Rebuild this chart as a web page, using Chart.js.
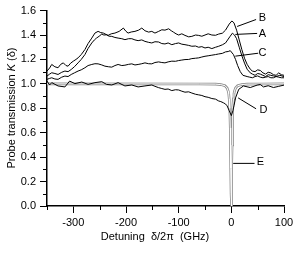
<!DOCTYPE html>
<html>
<head>
<meta charset="utf-8">
<script src="https://cdn.jsdelivr.net/npm/chart.js@4/dist/chart.umd.min.js"></script>
<style>
  body { margin: 0; background: #fff; }
  canvas { display: block; }
</style>
</head>
<body>
<canvas id="myChart" width="299" height="257"></canvas>
<script>
// detuning (GHz) and transmission K, one pair of arrays per trace
const bDet = [-350,-345,-341,-335,-329,-324,-319,-314,-310,-305,-300,-295,-291,-285,-278,-272,-265,-259,-253,-248,-243,-238,-234,-228,-221,-213,-205,-200,-196,-190,-183,-176,-170,-164,-157,-151,-145,-138,-132,-126,-119,-114,-110,-105,-100,-94,-88,-81,-75,-68,-62,-56,-50,-44,-37,-30,-24,-17,-11,-4,1,5,10,15,20,25,30,36,40,45,50,55,60,65,70,75,80,85,90,95,100];
const bK = [1.105,1.13,1.159,1.14,1.132,1.16,1.172,1.15,1.145,1.17,1.186,1.2,1.213,1.24,1.281,1.33,1.375,1.416,1.43,1.42,1.416,1.405,1.397,1.41,1.416,1.43,1.457,1.43,1.416,1.425,1.43,1.44,1.457,1.435,1.424,1.43,1.416,1.43,1.443,1.44,1.451,1.435,1.424,1.41,1.40,1.41,1.397,1.385,1.389,1.40,1.397,1.39,1.40,1.41,1.40,1.398,1.408,1.415,1.44,1.49,1.515,1.50,1.44,1.36,1.28,1.21,1.16,1.12,1.105,1.10,1.115,1.11,1.09,1.08,1.095,1.09,1.075,1.07,1.09,1.075,1.07];

const aDet = [-350,-345,-341,-335,-329,-322,-316,-310,-304,-298,-291,-285,-278,-272,-265,-260,-256,-251,-246,-242,-237,-232,-227,-221,-215,-208,-202,-195,-189,-183,-177,-170,-164,-157,-151,-145,-138,-132,-126,-120,-113,-106,-100,-94,-88,-81,-75,-68,-62,-56,-50,-44,-37,-30,-24,-17,-11,-3,2,6,10,15,20,25,30,36,40,45,50,55,60,65,70,75,80,85,92,100];
const aK = [1.064,1.08,1.091,1.085,1.077,1.095,1.105,1.10,1.118,1.14,1.172,1.20,1.24,1.29,1.335,1.36,1.375,1.39,1.408,1.40,1.402,1.39,1.389,1.38,1.375,1.37,1.362,1.37,1.37,1.36,1.354,1.36,1.348,1.34,1.335,1.345,1.343,1.33,1.327,1.335,1.321,1.33,1.335,1.325,1.321,1.315,1.308,1.31,1.30,1.305,1.294,1.30,1.289,1.30,1.308,1.32,1.335,1.385,1.415,1.40,1.37,1.30,1.23,1.17,1.12,1.09,1.08,1.07,1.085,1.08,1.07,1.06,1.075,1.07,1.065,1.06,1.07,1.06];

const cDet = [-350,-345,-341,-335,-329,-322,-316,-310,-304,-298,-291,-285,-278,-272,-265,-259,-253,-246,-240,-233,-227,-221,-215,-208,-202,-195,-189,-183,-177,-170,-164,-157,-151,-145,-138,-132,-126,-120,-113,-106,-100,-94,-88,-81,-75,-68,-62,-56,-50,-44,-37,-30,-24,-17,-11,-6,-2,4,8,12,17,22,26,30,35,40,45,50,55,60,65,70,75,80,85,90,95,100];
const cK = [1.037,1.045,1.05,1.04,1.037,1.055,1.064,1.06,1.077,1.09,1.105,1.115,1.132,1.15,1.159,1.165,1.164,1.155,1.145,1.14,1.137,1.15,1.159,1.15,1.153,1.16,1.164,1.155,1.159,1.165,1.172,1.165,1.164,1.175,1.18,1.175,1.172,1.18,1.186,1.185,1.191,1.195,1.199,1.20,1.207,1.21,1.213,1.22,1.226,1.23,1.235,1.24,1.245,1.25,1.262,1.265,1.272,1.24,1.20,1.15,1.10,1.07,1.065,1.06,1.055,1.05,1.06,1.065,1.055,1.05,1.055,1.06,1.05,1.05,1.06,1.055,1.05,1.05];

const dDet = [-350,-345,-341,-329,-316,-307,-297,-284,-272,-259,-246,-237,-227,-215,-202,-189,-177,-164,-151,-145,-138,-132,-126,-120,-113,-106,-100,-94,-88,-81,-75,-68,-62,-56,-50,-44,-37,-30,-24,-20,-15,-11,-8,-4,0,3,5,8,14,23,36,49,55,61,70,80,90,100];
const dK = [1.023,0.991,1.01,0.983,0.975,1.023,1.002,1.015,0.996,1.01,1.018,0.996,0.991,1.01,0.983,0.991,0.975,0.983,0.991,0.98,0.969,0.962,0.955,0.958,0.945,0.952,0.95,0.94,0.932,0.935,0.925,0.915,0.91,0.905,0.895,0.89,0.88,0.875,0.86,0.855,0.845,0.835,0.82,0.78,0.74,0.78,0.82,0.885,0.955,0.983,0.97,0.99,0.995,0.975,0.985,0.97,0.98,0.99];

const eDet = [-350,-60,-30,-20,-12,-8,-6,-5,-4,-3,-2,-1.5,-1,-0.5,0,0.5,1,1.5,2,3,4,5,6,8,12,20,30,60,100];
const eK = [1,0.999,0.998,0.994,0.985,0.966,0.94,0.92,0.877,0.8,0.64,0.5,0.31,0.1,0,0.1,0.31,0.5,0.64,0.8,0.877,0.92,0.94,0.966,0.985,0.994,0.998,0.999,1];

// axis ranges / tick steps
const xMin = -350, xMax = 100, xStep = 50;
const yMin = 0, yMax = 1.6, yStep = 0.1;

// curve labels with their leader lines, in data units
const labels = [
  { text: 'B', x: 59, y: 1.543, from: [11, 1.47], to: [47, 1.527] },
  { text: 'A', x: 59, y: 1.405, from: [7.6, 1.405], to: [49, 1.413] },
  { text: 'C', x: 59, y: 1.251, from: [7.6, 1.227], to: [51, 1.251] },
  { text: 'D', x: 61, y: 0.788, from: [13, 0.885], to: [47, 0.796] },
  { text: 'E', x: 55, y: 0.357, from: [3.5, 0.349], to: [44, 0.349] }
];

const FONT = '"Liberation Sans", Arial, sans-serif';

function pts(xs, ys) {
  return xs.map((x, i) => ({ x: x, y: ys[i] }));
}

function blackLine(xs, ys) {
  return { data: pts(xs, ys), borderColor: '#000', borderWidth: 1, pointRadius: 0, tension: 0, order: 0 };
}

// minor ticks, titles, curve labels
const decor = {
  id: 'decor',
  afterDraw(chart) {
    const ctx = chart.ctx;
    const xs = chart.scales.x, ys = chart.scales.y;
    const area = chart.chartArea;
    ctx.save();
    ctx.strokeStyle = '#000';
    ctx.lineWidth = 1;
    ctx.beginPath();
    for (let v = xMin; v <= xMax; v += xStep) {
      if (v % 100 === 0) continue;
      const px = Math.round(xs.getPixelForValue(v)) + 0.5;
      ctx.moveTo(px, area.bottom);
      ctx.lineTo(px, area.bottom + 4);
    }
    for (let i = 1; i < 16; i += 2) {
      const py = Math.round(ys.getPixelForValue(i / 10)) + 0.5;
      ctx.moveTo(area.left - 4, py);
      ctx.lineTo(area.left, py);
    }
    ctx.stroke();

    // leader lines and letters
    ctx.beginPath();
    labels.forEach(l => {
      ctx.moveTo(xs.getPixelForValue(l.from[0]), ys.getPixelForValue(l.from[1]));
      ctx.lineTo(xs.getPixelForValue(l.to[0]), ys.getPixelForValue(l.to[1]));
    });
    ctx.stroke();
    ctx.fillStyle = '#000';
    ctx.font = '11px ' + FONT;
    ctx.textAlign = 'center';
    ctx.textBaseline = 'middle';
    labels.forEach(l => {
      ctx.fillText(l.text, xs.getPixelForValue(l.x), ys.getPixelForValue(l.y));
    });

    // x title
    ctx.fillText('Detuning  \u03b4/2\u03c0  (GHz)', 155, 237);

    // y title with italic K
    const parts = [['Probe transmission ', '11px ' + FONT], ['K', 'italic 11px ' + FONT], [' (\u03b4)', '11px ' + FONT]];
    let total = 0;
    parts.forEach(p => { ctx.font = p[1]; total += ctx.measureText(p[0]).width; });
    ctx.translate(12, 108);
    ctx.rotate(-Math.PI / 2);
    ctx.textAlign = 'left';
    let off = -total / 2;
    parts.forEach(p => {
      ctx.font = p[1];
      ctx.fillText(p[0], off, 0);
      off += ctx.measureText(p[0]).width;
    });
    ctx.restore();
  }
};

const ctx = document.getElementById('myChart').getContext('2d');
window.myChart = new Chart(ctx, {
  type: 'line',
  data: {
    datasets: [
      blackLine(bDet, bK),
      blackLine(aDet, aK),
      blackLine(cDet, cK),
      blackLine(dDet, dK),
      // E is drawn as a gray double line: wide gray under a thin white one
      { data: pts(eDet, eK), borderColor: '#fff', borderWidth: 1, pointRadius: 0, tension: 0, order: 5 },
      { data: pts(eDet, eK), borderColor: '#8c8c8c', borderWidth: 2.6, pointRadius: 0, tension: 0, order: 6 }
    ]
  },
  options: {
    responsive: false,
    animation: false,
    devicePixelRatio: 1,
    layout: { padding: { top: 9, right: 15, left: 0, bottom: 0 } },
    plugins: { legend: { display: false }, tooltip: { enabled: false } },
    scales: {
      x: {
        type: 'linear',
        min: xMin,
        max: xMax,
        afterFit: s => { s.height = 51; },
        border: { display: true, color: '#000', width: 1.5 },
        grid: {
          drawOnChartArea: false,
          tickLength: 7,
          tickColor: c => (c.tick && c.tick.value % 100 === 0) ? '#000' : 'rgba(0,0,0,0)'
        },
        ticks: {
          stepSize: xStep,
          autoSkip: false,
          maxRotation: 0,
          padding: 3,
          color: '#000',
          font: { family: FONT, size: 11 },
          callback: v => (v % 100 === 0 ? String(v) : '')
        }
      },
      y: {
        min: yMin,
        max: yMax,
        afterFit: s => { s.width = 47; },
        border: { display: true, color: '#000', width: 1.5 },
        grid: {
          drawOnChartArea: false,
          tickLength: 7,
          tickColor: c => (c.tick && Math.round(c.tick.value * 10) % 2 === 0) ? '#000' : 'rgba(0,0,0,0)'
        },
        ticks: {
          stepSize: yStep,
          autoSkip: false,
          padding: 4,
          color: '#000',
          font: { family: FONT, size: 11 },
          callback: v => (Math.round(v * 10) % 2 === 0 ? v.toFixed(1) : '')
        }
      }
    }
  },
  plugins: [decor]
});
</script>
</body>
</html>
